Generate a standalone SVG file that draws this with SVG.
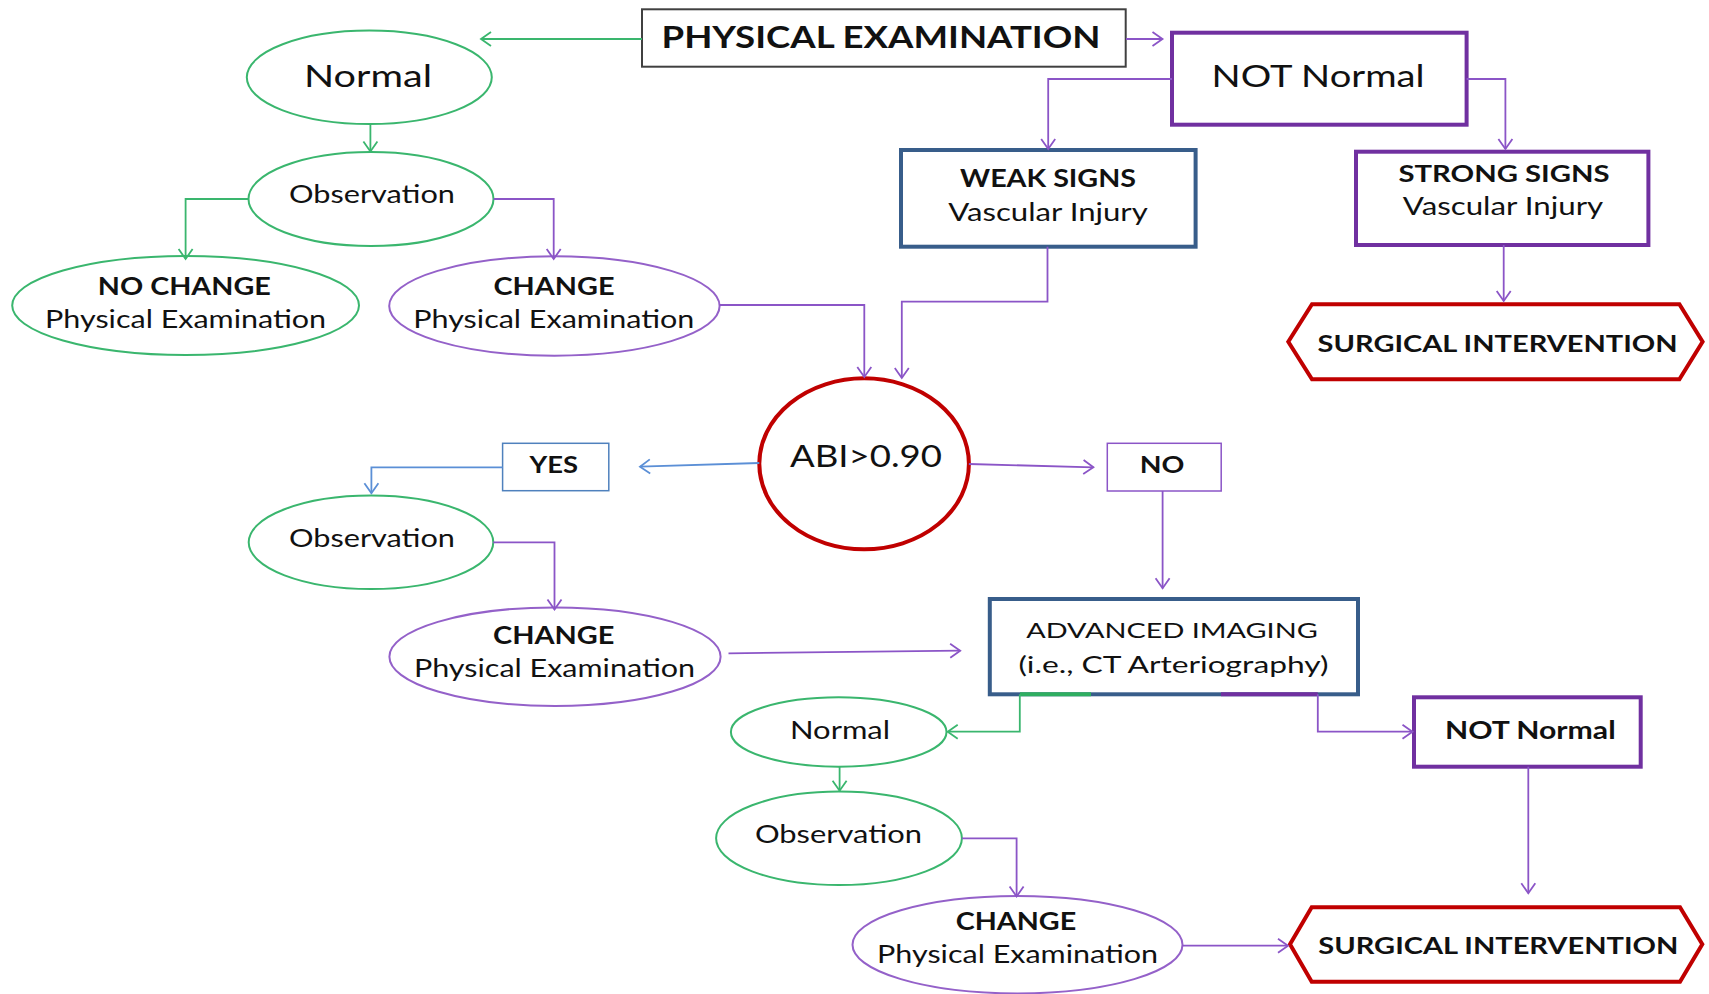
<svg xmlns="http://www.w3.org/2000/svg" width="1709" height="994" viewBox="0 0 1709 994">
<style>
text{font-family:Lato,"Noto Sans","Liberation Sans",sans-serif;fill:#111;text-anchor:middle}
.b{font-weight:bold}
.eg{fill:#fff;stroke:#3AB66E;stroke-width:2}
.ep{fill:#fff;stroke:#9461C9;stroke-width:2}
.bp{fill:#fff;stroke:#7030A0;stroke-width:4}
.bb{fill:#fff;stroke:#385D8A;stroke-width:4}
.red{fill:#fff;stroke:#C00000;stroke-width:4}
.cg{fill:none;stroke:#3AB66E;stroke-width:1.8;marker-end:url(#mg)}
.cp{fill:none;stroke:#8B55C7;stroke-width:1.8;marker-end:url(#mp)}
.cb{fill:none;stroke:#5B8FD6;stroke-width:1.8;marker-end:url(#mb)}
</style>
<defs>
<marker id="mg" viewBox="-12 -9 14 18" refX="0" refY="0" markerWidth="14" markerHeight="18" markerUnits="userSpaceOnUse" orient="auto"><path d="M-10,-7 L0,0 L-10,7" fill="none" stroke="#3AB66E" stroke-width="1.8"/></marker>
<marker id="mp" viewBox="-12 -9 14 18" refX="0" refY="0" markerWidth="14" markerHeight="18" markerUnits="userSpaceOnUse" orient="auto"><path d="M-10,-7 L0,0 L-10,7" fill="none" stroke="#8B55C7" stroke-width="1.8"/></marker>
<marker id="mb" viewBox="-12 -9 14 18" refX="0" refY="0" markerWidth="14" markerHeight="18" markerUnits="userSpaceOnUse" orient="auto"><path d="M-10,-7 L0,0 L-10,7" fill="none" stroke="#5B8FD6" stroke-width="1.8"/></marker>
</defs>
<rect width="1709" height="994" fill="#fff"/>

<g id="pe"><rect x="642" y="9.3" width="483.7" height="57.4" fill="#fff" stroke="#404040" stroke-width="2"/><text x="881" y="48.3" class="b" font-size="30" textLength="439" lengthAdjust="spacingAndGlyphs">PHYSICAL EXAMINATION</text></g>
<g id="normal1"><ellipse cx="369.3" cy="77.3" rx="122.5" ry="46.7" class="eg"/><text x="368" y="87.3" font-size="31" textLength="128" lengthAdjust="spacingAndGlyphs">Normal</text></g>
<g id="obs1"><ellipse cx="371" cy="199" rx="122.5" ry="47" class="eg"/><text x="372" y="203.3" font-size="25" textLength="166" lengthAdjust="spacingAndGlyphs">Observation</text></g>
<g id="nochange"><ellipse cx="185.6" cy="305.5" rx="173.4" ry="49.5" class="eg"/><text x="184.3" y="295" class="b" font-size="25.5" textLength="173" lengthAdjust="spacingAndGlyphs">NO CHANGE</text><text x="185.6" y="328.3" font-size="25" textLength="281" lengthAdjust="spacingAndGlyphs">Physical Examination</text></g>
<g id="change1"><ellipse cx="554.4" cy="306" rx="165.2" ry="49.7" class="ep"/><text x="554" y="295" class="b" font-size="25.5" textLength="121" lengthAdjust="spacingAndGlyphs">CHANGE</text><text x="553.8" y="328" font-size="25" textLength="281" lengthAdjust="spacingAndGlyphs">Physical Examination</text></g>
<g id="notnormal1"><rect x="1172" y="32.7" width="294.6" height="92" class="bp"/><text x="1318" y="87.3" font-size="31.5" textLength="213" lengthAdjust="spacingAndGlyphs">NOT Normal</text></g>
<g id="weak"><rect x="901" y="150" width="294.6" height="96.7" class="bb"/><text x="1048" y="187.3" class="b" font-size="24" textLength="176" lengthAdjust="spacingAndGlyphs">WEAK SIGNS</text><text x="1048" y="220.7" font-size="24.5" textLength="199.5" lengthAdjust="spacingAndGlyphs">Vascular Injury</text></g>
<g id="strong"><rect x="1356" y="151.7" width="292.4" height="93.3" class="bp"/><text x="1504" y="181.7" class="b" font-size="23.5" textLength="211" lengthAdjust="spacingAndGlyphs">STRONG SIGNS</text><text x="1503" y="215" font-size="24.5" textLength="200.5" lengthAdjust="spacingAndGlyphs">Vascular Injury</text></g>
<g id="surg1"><polygon points="1312,304.3 1679.4,304.3 1702.6,341.7 1679.4,379.3 1312,379.3 1288.3,341.7" class="red"/><text x="1497.6" y="351.7" class="b" font-size="23.5" textLength="360" lengthAdjust="spacingAndGlyphs">SURGICAL INTERVENTION</text></g>
<g id="abi"><ellipse cx="864.1" cy="463.8" rx="104.8" ry="85.5" class="red"/><text x="866" y="467.3" font-size="30" textLength="152" lengthAdjust="spacingAndGlyphs">ABI&gt;0.90</text></g>
<g id="yes"><rect x="502.6" y="443.3" width="106.2" height="47.4" fill="#fff" stroke="#4F81BD" stroke-width="1.5"/><text x="553.8" y="473.3" class="b" font-size="23.5" textLength="48.6" lengthAdjust="spacingAndGlyphs">YES</text></g>
<g id="no"><rect x="1107.3" y="443.3" width="113.9" height="47.7" fill="#fff" stroke="#8B55C7" stroke-width="1.5"/><text x="1162" y="473.3" class="b" font-size="23.5" textLength="44.7" lengthAdjust="spacingAndGlyphs">NO</text></g>
<g id="obs2"><ellipse cx="371" cy="542.3" rx="122.3" ry="46.7" class="eg"/><text x="372" y="546.7" font-size="25" textLength="166" lengthAdjust="spacingAndGlyphs">Observation</text></g>
<g id="change2"><ellipse cx="555" cy="656.7" rx="165.6" ry="49.3" class="ep"/><text x="553.7" y="644" class="b" font-size="25.5" textLength="121.4" lengthAdjust="spacingAndGlyphs">CHANGE</text><text x="554.5" y="676.7" font-size="25" textLength="281" lengthAdjust="spacingAndGlyphs">Physical Examination</text></g>
<g id="adv"><rect x="989.8" y="599" width="368.2" height="95.3" class="bb"/><text x="1172" y="638.3" font-size="22" textLength="291.5" lengthAdjust="spacingAndGlyphs">ADVANCED IMAGING</text><text x="1173.4" y="673.3" font-size="22.5" textLength="310" lengthAdjust="spacingAndGlyphs">(i.e., CT Arteriography)</text></g>
<g id="normal2"><ellipse cx="838.7" cy="732" rx="107.8" ry="34.7" class="eg"/><text x="840" y="739.3" font-size="24.8" textLength="100" lengthAdjust="spacingAndGlyphs">Normal</text></g>
<g id="notnormal2"><rect x="1414" y="697.3" width="226.7" height="69.4" class="bp"/><text x="1530.3" y="739.3" class="b" font-size="24.8" textLength="170.7" lengthAdjust="spacingAndGlyphs">NOT Normal</text></g>
<g id="obs3"><ellipse cx="839" cy="838.3" rx="122.9" ry="46.7" class="eg"/><text x="838.4" y="842.7" font-size="25" textLength="167" lengthAdjust="spacingAndGlyphs">Observation</text></g>
<g id="change3"><ellipse cx="1017.5" cy="944.7" rx="165" ry="48.7" class="ep"/><text x="1016" y="930" class="b" font-size="25.5" textLength="120.4" lengthAdjust="spacingAndGlyphs">CHANGE</text><text x="1017.6" y="963.3" font-size="25" textLength="281" lengthAdjust="spacingAndGlyphs">Physical Examination</text></g>
<g id="surg2"><polygon points="1311.7,907.3 1680,907.3 1702.3,944.3 1680,981.7 1311.7,981.7 1290,944.3" class="red"/><text x="1498.3" y="954" class="b" font-size="23.5" textLength="360" lengthAdjust="spacingAndGlyphs">SURGICAL INTERVENTION</text></g>

<g id="connectors">
<path class="cg" d="M642,39 H481"/>
<path class="cp" d="M1126,39 H1162.5"/>
<path class="cg" d="M370.4,124 V151.5"/>
<path class="cg" d="M248.7,199 H185.6 V259"/>
<path class="cp" d="M493.6,199 H553.7 V259"/>
<path class="cp" d="M1172,79 H1048.2 V149"/>
<path class="cp" d="M1466.6,79 H1505.4 V149"/>
<path class="cp" d="M1503.7,245 V301"/>
<path class="cp" d="M1047.5,246.7 V301.7 H901.8 V378"/>
<path class="cp" d="M719.6,305 H864.3 V377"/>
<path class="cb" d="M759.3,463 L640,466.7"/>
<path class="cp" d="M968.9,464 L1093.4,467.3"/>
<path class="cb" d="M502.6,467.3 H371.4 V493.3"/>
<path class="cp" d="M493.2,542.3 H554.5 V609.5"/>
<path class="cp" d="M1162.6,491 V588.3"/>
<path class="cp" d="M728.5,653.3 L960.2,650.7"/>
<path d="M1091,694.3 H1020" fill="none" stroke="#2EAE60" stroke-width="4"/>
<path d="M1221,694.3 H1317.8" fill="none" stroke="#7030A0" stroke-width="4"/>
<path class="cg" d="M1019.8,694.3 V731.7 H947.7"/>
<path class="cp" d="M1317.8,694.3 V731.7 H1412.5"/>
<path class="cg" d="M839.6,766.7 V790.7"/>
<path class="cp" d="M961.9,838.3 H1016.6 V896.5"/>
<path class="cp" d="M1528.3,766.7 V893.3"/>
<path class="cp" d="M1182.6,945.7 H1288"/>
</g>
</svg>
